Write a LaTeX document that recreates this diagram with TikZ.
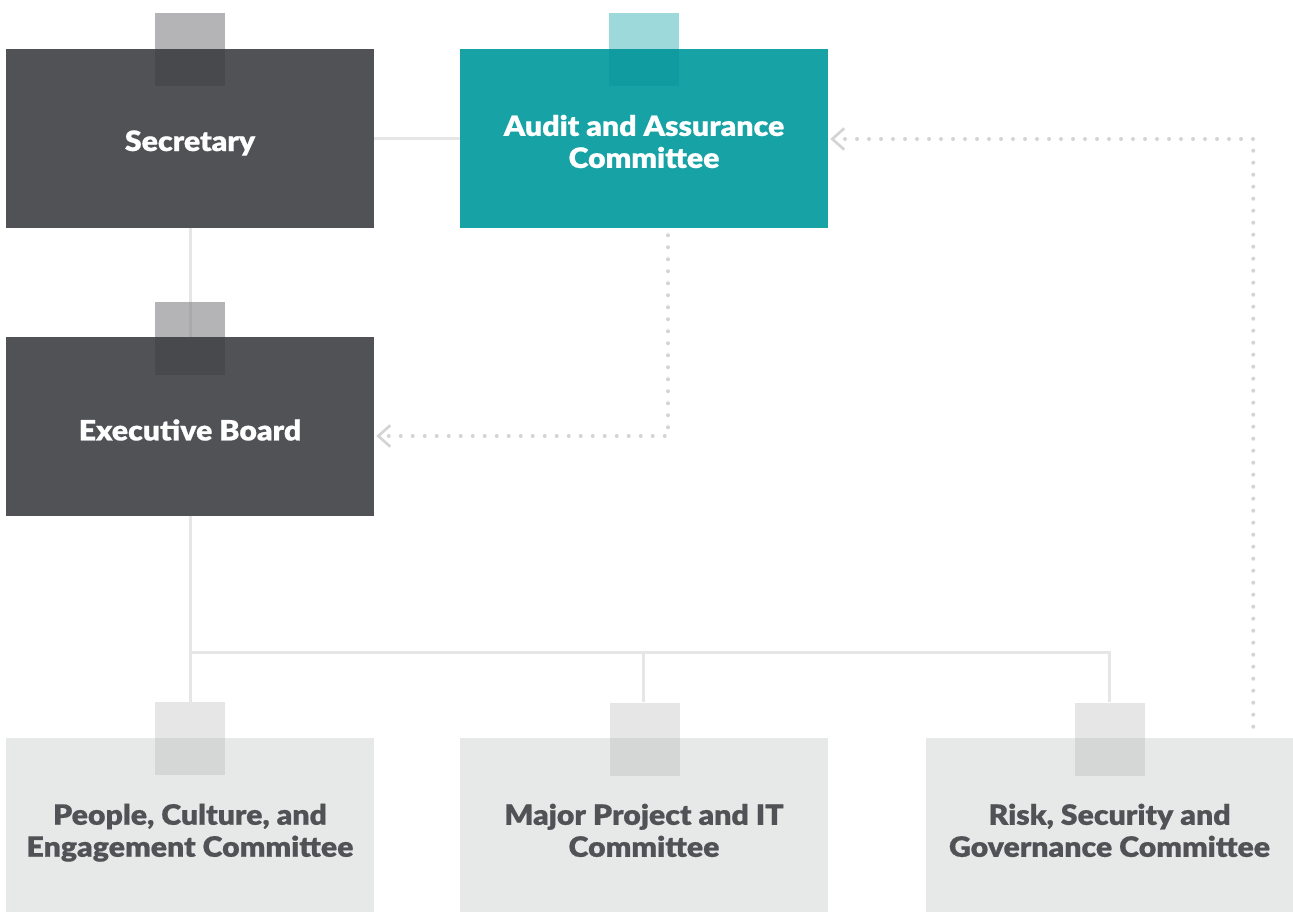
\documentclass[tikz,border=0pt]{standalone}
\usepackage{fontspec}
\newfontfamily\boxfont{Lato Black}[FakeStretch=1.08, FakeBold=0.6]
\usetikzlibrary{calc,arrows.meta}

\definecolor{darkbox}{HTML}{515256}
\definecolor{darktab}{HTML}{B4B4B6}
\definecolor{darktabov}{HTML}{48494D}
\definecolor{tealbox}{HTML}{17A3A5}
\definecolor{tealtab}{HTML}{9DD8DA}
\definecolor{tealtabov}{HTML}{0F9B9F}
\definecolor{lightbox}{HTML}{E7E8E8}
\definecolor{lighttab}{HTML}{E6E6E6}
\definecolor{lighttabov}{HTML}{D5D6D6}
\definecolor{linec}{HTML}{E6E6E6}
\definecolor{linetab}{HTML}{A9A9AB}
\definecolor{dotc}{HTML}{D4D4D4}

\tikzset{
  box/.style={rectangle, inner sep=0pt, minimum width=276pt, minimum height=134.25pt},
  topbox/.style={box, minimum height=134.25pt},
  lowbox/.style={box, minimum height=130.5pt, fill=lightbox},
  tab/.style={rectangle, inner sep=0pt, minimum width=52.5pt, minimum height=54.75pt},
  lbl/.style={align=center, inner sep=0pt, font=\boxfont\fontsize{21}{24}\selectfont},
  lowlbl/.style={lbl, anchor=north, text=darkbox},
  conn/.style={draw=linec, line width=2.25pt},
  dotted link/.style={draw=dotc, line width=3pt, line cap=round,
    dash pattern=on 0pt off 9pt,
    -{Straight Barb[length=9pt, width=16pt, line width=2pt]}},
}

\begin{document}
\begin{tikzpicture}[x=0.75pt, y=-0.75pt]
\useasboundingbox (0,0) rectangle (1293,913);

% boxes
\node[topbox, fill=darkbox] (sec) at (190,138.5) {};
\node[topbox, fill=tealbox] (audit) at (644,138.5) {};
\node[topbox, fill=darkbox] (exec) at (190,426.5) {};
\node[lowbox] (people) at (190,825) {};
\node[lowbox] (major) at (644,825) {};
\node[lowbox, minimum width=275.25pt] (risk) at (1109.5,825) {};

% solid connectors
\draw[conn] (sec.east) -- (audit.west);
\draw[conn] (sec.south) -- (exec.north);
\coordinate (bus) at (190,652);
\draw[conn] (exec.south) -- (bus) -| (1109.5,702);
\draw[conn] (bus) -- (190,702);
\draw[conn] (bus -| 643,0) -- (643,702);

% tabs: a lighter part above each box and a darker overlap
\node[tab, fill=darktab] (sectab) at (190,49.5) {};
\fill[darktabov] (sectab.south west) rectangle (sectab.east |- sec.north);
\node[tab, fill=tealtab] (audittab) at (644,49.5) {};
\fill[tealtabov] (audittab.south west) rectangle (audittab.east |- audit.north);
\node[tab, fill=darktab] (exectab) at (190,338.5) {};
\fill[darktabov] (exectab.south west) rectangle (exectab.east |- exec.north);
\draw[draw=linetab, line width=2.25pt] (exectab.north) -- (exectab.center |- exec.north);
\node[tab, fill=lighttab] (ptab) at (190,738.5) {};
\fill[lighttabov] (ptab.south west) rectangle (ptab.east |- people.north);
\node[tab, fill=lighttab] (mtab) at (645,739) {};
\fill[lighttabov] (mtab.south west) rectangle (mtab.east |- major.north);
\node[tab, fill=lighttab] (rtab) at (1110,739) {};
\fill[lighttabov] (rtab.south west) rectangle (rtab.east |- risk.north);

% labels
\node[lbl, text=white] (sect) at (190,143) {Secretary};
\node[lbl, text=white] (auditt) at (644,141.5) {Audit and Assurance\\Committee};
\node[lbl, text=white] (exect) at (190,430) {Executive Board};
\node[lowlbl] (peoplet) at (190,803.5) {People, Culture, and\\Engagement Committee};
\node[lowlbl] (majort) at (644,803.5) {Major Project and IT\\Committee};
\node[lowlbl] (riskt) at (1109.5,803.5) {Risk, Security and\\Governance Committee};

% dotted reporting links
\draw[dotted link] ($(audit.south)+(24,7)$) |- ($(exec.east)+(2,9.5)$);
\draw[dotted link] ($(risk.north east)+(-40,-11)$) |- ($(audit.east)+(2,0.5)$);
\end{tikzpicture}
\end{document}
